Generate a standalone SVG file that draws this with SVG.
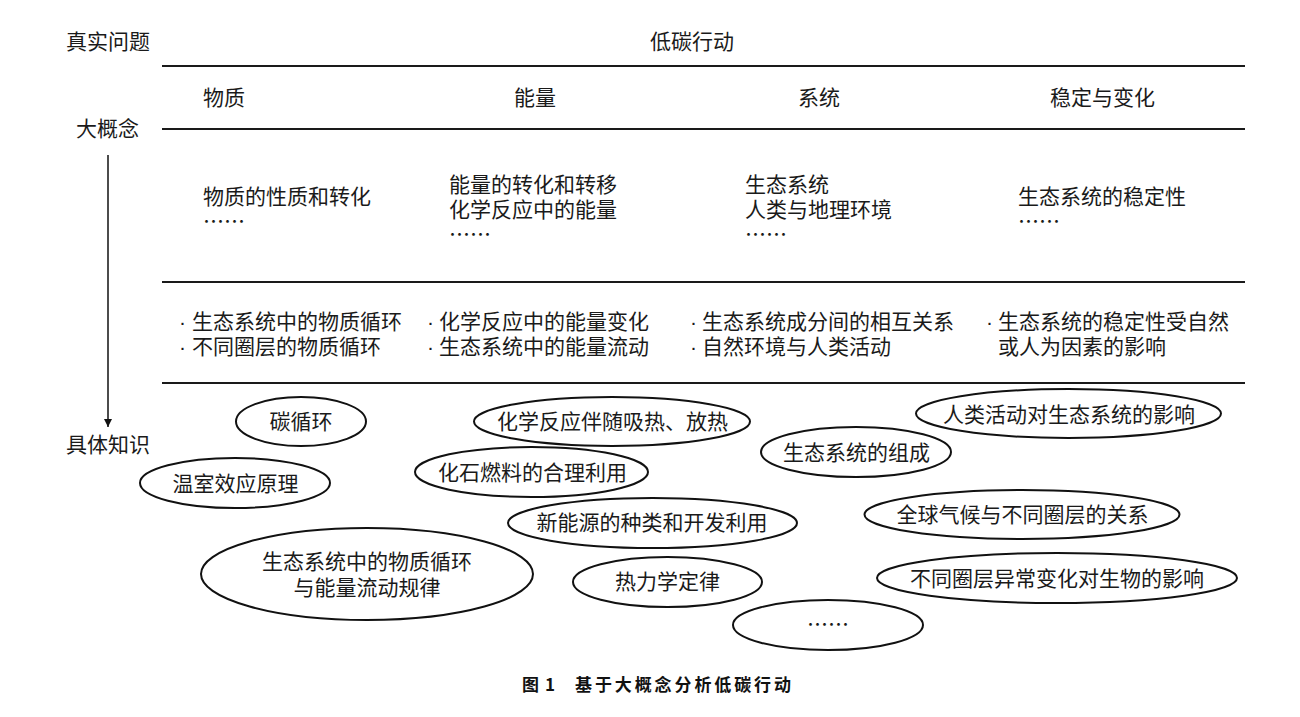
<svg xmlns="http://www.w3.org/2000/svg" width="1300" height="717" viewBox="0 0 1300 717">
<style>
.t{font-family:"Noto Sans CJK SC","Noto Sans",sans-serif;font-size:21px;fill:#1a1a1a}
.b{font-family:"Liberation Sans",sans-serif;font-size:21px;fill:#1a1a1a}
.c{text-anchor:middle}
.rule{stroke:#1a1a1a;stroke-width:2.2;fill:none}
.oval{fill:#fff;stroke:#111;stroke-width:2}
.cap{font-family:"Noto Sans CJK SC","Noto Sans",sans-serif;font-size:17px;font-weight:bold;fill:#111}
</style>
<defs>
<marker id="ah" viewBox="0 0 10 10" refX="10" refY="5" markerWidth="8" markerHeight="11" markerUnits="userSpaceOnUse" orient="auto">
<path d="M0,0 L10,5 L0,10 z" fill="#111"/>
</marker>
</defs>
<rect width="1300" height="717" fill="#fff"/>

<g id="labels">
<text class="t" x="66" y="48.5">真实问题</text>
<text class="t" x="76" y="135.5">大概念</text>
<text class="t" x="66" y="451.5">具体知识</text>
</g>

<g id="table">
<text class="t" x="650" y="48.5">低碳行动</text>
<line class="rule" x1="162" y1="66" x2="1245" y2="66"/>
<text class="t" x="203" y="105">物质</text>
<text class="t" x="514" y="105">能量</text>
<text class="t" x="798" y="105">系统</text>
<text class="t" x="1050" y="105">稳定与变化</text>
<line class="rule" x1="162" y1="129" x2="1245" y2="129"/>
<text class="t" x="203" y="203.5">物质的性质和转化</text>
<text class="t" x="203" y="229">……</text>
<text class="t" x="449" y="191.5">能量的转化和转移</text>
<text class="t" x="449" y="216.5">化学反应中的能量</text>
<text class="t" x="449" y="241.5">……</text>
<text class="t" x="745" y="191.5">生态系统</text>
<text class="t" x="745" y="216.5">人类与地理环境</text>
<text class="t" x="745" y="241.5">……</text>
<text class="t" x="1018" y="203.5">生态系统的稳定性</text>
<text class="t" x="1018" y="229">……</text>
<line class="rule" x1="162" y1="282" x2="1245" y2="282"/>
<text class="b" x="179" y="329">·</text>
<text class="t" x="192" y="329">生态系统中的物质循环</text>
<text class="b" x="179" y="354">·</text>
<text class="t" x="192" y="354">不同圈层的物质循环</text>
<text class="b" x="427" y="329">·</text>
<text class="t" x="439" y="329">化学反应中的能量变化</text>
<text class="b" x="427" y="354">·</text>
<text class="t" x="439" y="354">生态系统中的能量流动</text>
<text class="b" x="690" y="329">·</text>
<text class="t" x="702" y="329">生态系统成分间的相互关系</text>
<text class="b" x="690" y="354">·</text>
<text class="t" x="702" y="354">自然环境与人类活动</text>
<text class="b" x="986" y="329">·</text>
<text class="t" x="998" y="329">生态系统的稳定性受自然</text>
<text class="t" x="998" y="354">或人为因素的影响</text>
<line class="rule" x1="162" y1="383" x2="1245" y2="383"/>
</g>

<g id="connectors">
<line x1="108" y1="155" x2="108" y2="427" stroke="#111" stroke-width="1.5" marker-end="url(#ah)"/>
</g>

<g id="n1"><ellipse class="oval" cx="301" cy="421.5" rx="65" ry="24.5"/><text class="t c" x="301" y="429">碳循环</text></g>
<g id="n2"><ellipse class="oval" cx="235" cy="483" rx="95" ry="25"/><text class="t c" x="235.5" y="491">温室效应原理</text></g>
<g id="n3"><ellipse class="oval" cx="367" cy="574" rx="166" ry="46"/><text class="t c" x="367" y="568.5">生态系统中的物质循环</text><text class="t c" x="367" y="594.5">与能量流动规律</text></g>
<g id="n4"><ellipse class="oval" cx="612" cy="421.5" rx="138" ry="24.5"/><text class="t c" x="612.5" y="429">化学反应伴随吸热、放热</text></g>
<g id="n5"><ellipse class="oval" cx="531.5" cy="472" rx="116.5" ry="25"/><text class="t c" x="532.5" y="480">化石燃料的合理利用</text></g>
<g id="n6"><ellipse class="oval" cx="652.5" cy="523" rx="144.5" ry="25"/><text class="t c" x="652" y="530">新能源的种类和开发利用</text></g>
<g id="n7"><ellipse class="oval" cx="667.5" cy="582" rx="94.5" ry="25"/><text class="t c" x="667.5" y="589">热力学定律</text></g>
<g id="n8"><ellipse class="oval" cx="828" cy="625" rx="95" ry="25"/><text class="t c" x="828" y="632">……</text></g>
<g id="n9"><ellipse class="oval" cx="1068.5" cy="413.5" rx="152.5" ry="24.5"/><text class="t c" x="1069" y="421.5">人类活动对生态系统的影响</text></g>
<g id="n10"><ellipse class="oval" cx="856" cy="452" rx="95" ry="25"/><text class="t c" x="856.5" y="459.5">生态系统的组成</text></g>
<g id="n11"><ellipse class="oval" cx="1022" cy="514.5" rx="157.5" ry="24.5"/><text class="t c" x="1022.5" y="522">全球气候与不同圈层的关系</text></g>
<g id="n12"><ellipse class="oval" cx="1057" cy="578" rx="180" ry="25"/><text class="t c" x="1057" y="585.5">不同圈层异常变化对生物的影响</text></g>

<g id="caption">
<text class="cap" y="691"><tspan x="522">图</tspan><tspan x="545">1</tspan><tspan x="575" textLength="216" lengthAdjust="spacing">基于大概念分析低碳行动</tspan></text>
</g>
</svg>
